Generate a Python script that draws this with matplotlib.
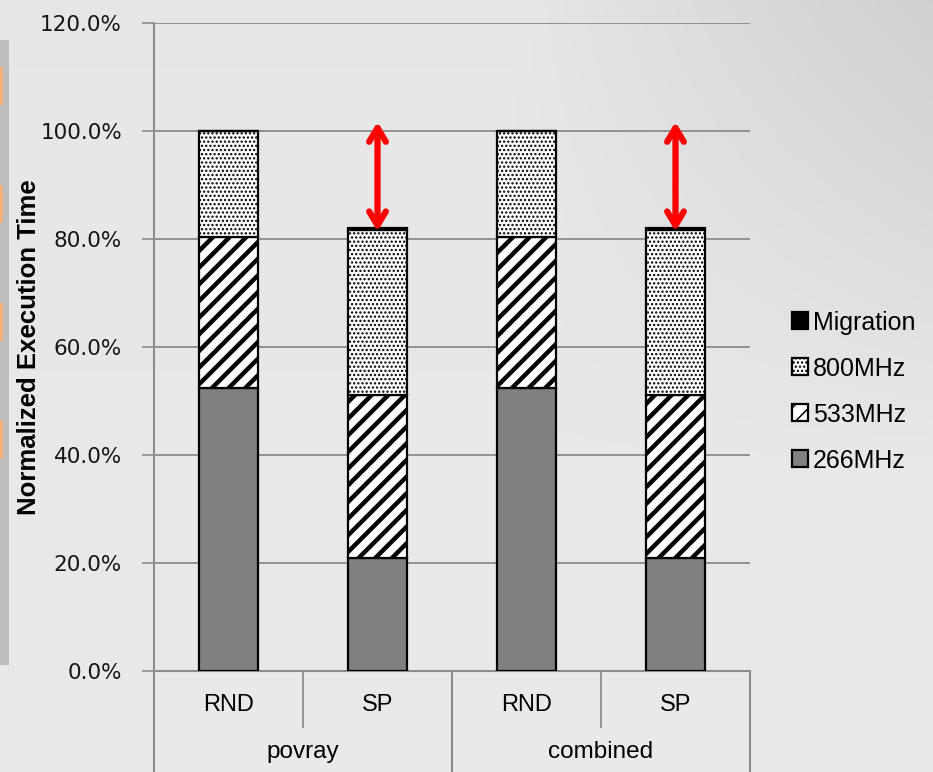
import numpy as np
import matplotlib
matplotlib.use("Agg")
import matplotlib.pyplot as plt
from matplotlib.patches import Rectangle
from matplotlib.lines import Line2D
import matplotlib.transforms as mtransforms

# ---- data -------------------------------------------------------------
groups = ["povray", "combined"]
schemes = ["RND", "SP", "RND", "SP"]
freq_266 = [52.4, 20.9, 52.4, 20.9]
freq_533 = [27.9, 30.2, 27.9, 30.2]
freq_800 = [19.7, 30.6, 19.7, 30.6]
migration = [0.0, 0.3, 0.0, 0.3]
yticks = [0, 20, 40, 60, 80, 100, 120]
arrow_bars = [1, 3]
arrow_low = 81.4
arrow_high = 101.7

label_font = ["Liberation Sans Narrow", "Liberation Sans", "DejaVu Sans"]

fig = plt.figure(figsize=(9.33, 7.72), dpi=100)

# ---- slide-like gradient background ----------------------------------
bg = fig.add_axes([0, 0, 1, 1], zorder=-10)
h, w = 200, 240
yy, xx = np.mgrid[0:h, 0:w]
xn, yn = xx / (w - 1), yy / (h - 1)
light = 0.905 - 0.09 * np.clip((xn - 0.55) / 0.45, 0, 1) * np.clip(1 - yn / 0.6, 0, 1)
light += 0.01 * yn
bg.imshow(np.dstack([light] * 3), aspect="auto", extent=[0, 1, 0, 1], origin="upper")
bg.set_xlim(0, 1)
bg.set_ylim(0, 1)
bg.axis("off")
# side panel strip with orange markers
bg.add_patch(Rectangle((0, 1 - 665 / 772), 9 / 933, (665 - 40) / 772,
                       color="#bdbdbd", lw=0))
for top in (67, 185, 303, 420):
    bg.add_patch(Rectangle((0, 1 - (top + 38) / 772), 3 / 933, 38 / 772,
                           color="#f5b27a", lw=0))

# ---- main axes -------------------------------------------------------
ax = fig.add_axes([154 / 933, 1 - 671 / 772, (750 - 154) / 933, (671 - 23) / 772])
ax.set_facecolor("none")

x = np.arange(len(schemes))
bw = 0.4
edge = dict(edgecolor="black", linewidth=1.6)
plt.rcParams["hatch.linewidth"] = 1.0
b266 = ax.bar(x, freq_266, bw, color="#808080", zorder=3, **edge)
bottom = np.array(freq_266)
plt.rcParams["hatch.linewidth"] = 3.2
b533 = ax.bar(x, freq_533, bw, bottom=bottom, color="white", hatch="//", zorder=3, **edge)
bottom = bottom + np.array(freq_533)
plt.rcParams["hatch.linewidth"] = 1.1
b800 = ax.bar(x, freq_800, bw, bottom=bottom, color="white", hatch="....", zorder=3, **edge)
bottom = bottom + np.array(freq_800)
bmig = ax.bar(x, migration, bw, bottom=bottom, color="black", zorder=3, **edge)

ax.set_xlim(-0.5, 3.5)
ax.set_ylim(0, 120)
ax.set_yticks(yticks)
ax.set_yticklabels([f"{v:.1f}%" for v in yticks], fontsize=15.5, color="#151515",
                   family="DejaVu Sans")
ax.tick_params(axis="y", length=9, width=1.2, color="#8c8c8c", pad=14)
ax.set_xticks([])
ax.grid(axis="y", color="#8c8c8c", linewidth=1.3, zorder=1)
for s in ("top", "right"):
    ax.spines[s].set_visible(False)
for s in ("left", "bottom"):
    ax.spines[s].set_color("#8c8c8c")
    ax.spines[s].set_linewidth(1.5)

ax.set_ylabel("Normalized Execution Time", fontsize=18.5, fontweight="bold",
              family=label_font)
ax.yaxis.set_label_coords(-0.19, 0.5)

# ---- two-level category axis -----------------------------------------
trans = mtransforms.blended_transform_factory(ax.transData, ax.transAxes)
for xi, name in zip(x, schemes):
    ax.text(xi, -0.052, name, transform=trans, ha="center", va="center",
            fontsize=17, family=label_font)
for gi, g in enumerate(groups):
    ax.text(2 * gi + 0.5, -0.125, g, transform=trans, ha="center", va="center",
            fontsize=17.5, family=label_font)
for xs in (0.5, 2.5):
    ax.add_line(Line2D([xs, xs], [0, -0.087], transform=trans, color="#8c8c8c",
                       lw=1.3, clip_on=False))
for xs in (-0.5, 1.5, 3.5):
    ax.add_line(Line2D([xs, xs], [0, -0.16], transform=trans, color="#8c8c8c",
                       lw=1.5, clip_on=False))

# ---- red arrows --------------------------------------------------------
for bi in arrow_bars:
    ax.annotate("", xy=(x[bi], arrow_low), xytext=(x[bi], arrow_high),
                arrowprops=dict(arrowstyle="<->,head_length=1.0,head_width=0.6",
                                color="#ff0000", lw=4.5, shrinkA=0, shrinkB=0,
                                capstyle="round", joinstyle="round"),
                zorder=5)

# ---- legend -------------------------------------------------------------
handles = [bmig[0], b800[0], b533[0], b266[0]]
labels = ["Migration", "800MHz", "533MHz", "266MHz"]
fig.legend(handles, labels, loc="upper left", bbox_to_anchor=(779 / 933, 1 - 298 / 772),
           frameon=False, handlelength=0.66, handleheight=0.66,
           handletextpad=0.2, labelspacing=0.88, borderpad=0,
           prop=dict(family=label_font, size=18))

fig.savefig("out.png", dpi=100)
